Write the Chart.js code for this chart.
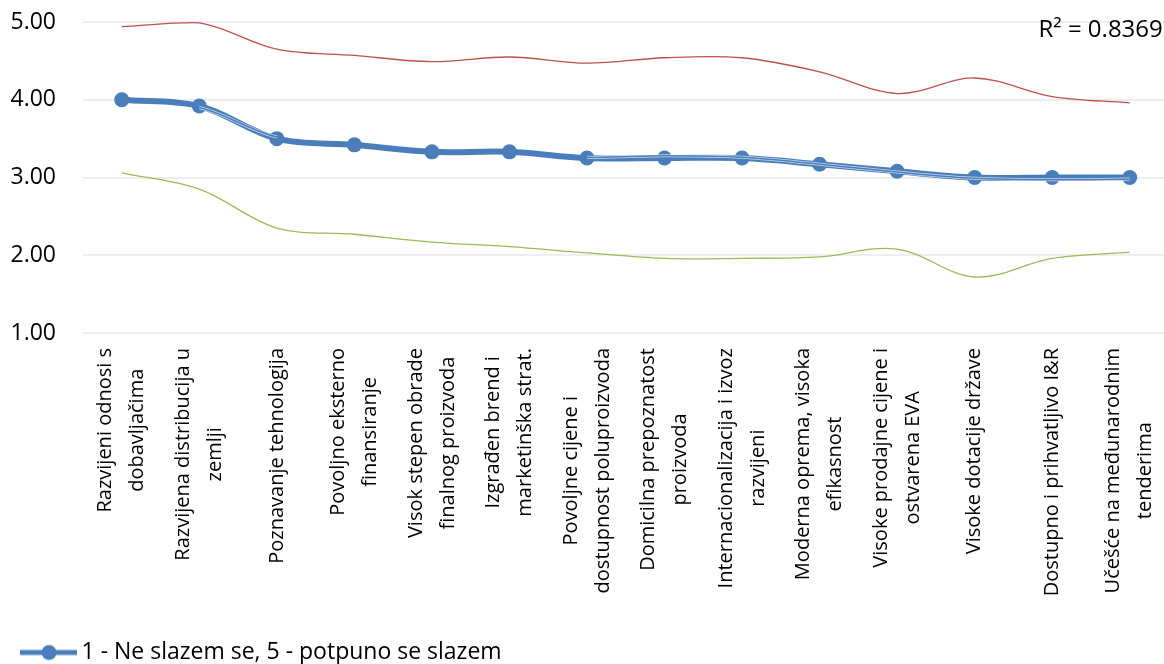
<!DOCTYPE html>
<html>
<head>
<meta charset="utf-8">
<script src="https://cdn.jsdelivr.net/npm/chart.js@4.4.1/dist/chart.umd.min.js"></script>
<style>
  html, body { margin: 0; padding: 0; background: #fff; overflow: hidden; }
  #wrap { position: relative; width: 1176px; height: 664px; }
</style>
</head>
<body>
<div id="wrap"><canvas id="chart"></canvas></div>
<script>
const categories = [
  ['Razvijeni odnosi s', 'dobavljačima'],
  ['Razvijena distribucija u', 'zemlji'],
  ['Poznavanje tehnologija'],
  ['Povoljno eksterno', 'finansiranje'],
  ['Visok stepen obrade', 'finalnog proizvoda'],
  ['Izgrađen brend i', 'marketinška strat.'],
  ['Povoljne cijene i', 'dostupnost poluproizvoda'],
  ['Domicilna prepoznatost', 'proizvoda'],
  ['Internacionalizacija i izvoz', 'razvijeni'],
  ['Moderna oprema, visoka', 'efikasnost'],
  ['Visoke prodajne cijene i', 'ostvarena EVA'],
  ['Visoke dotacije države'],
  ['Dostupno i prihvatljivo I&R'],
  ['Učešće na međunarodnim', 'tenderima']
];
const meanScores  = [4.00, 3.92, 3.50, 3.42, 3.33, 3.33, 3.25, 3.25, 3.25, 3.17, 3.08, 3.00, 3.00, 3.00];
const upperValues = [4.94, 4.99, 4.65, 4.57, 4.49, 4.55, 4.47, 4.54, 4.54, 4.36, 4.08, 4.28, 4.04, 3.96];
const lowerValues = [3.06, 2.85, 2.35, 2.27, 2.17, 2.11, 2.03, 1.96, 1.96, 1.98, 2.08, 1.72, 1.96, 2.04];
const trendValues = [4.00, 3.90, 3.52, 3.42, 3.33, 3.33, 3.26, 3.28, 3.26, 3.17, 3.07, 2.99, 2.97, 2.98];
const yTicks = [1, 2, 3, 4, 5];
const seriesName = '1 - Ne slazem se, 5 - potpuno se slazem';
const rSquaredText = 'R² = 0.8369';

const BLUE = '#4a7ebb';
const RED = '#c0504d';
const GREEN = '#9bbb59';
const FONT = '"Open Sans", "DejaVu Sans", sans-serif';

// legend marker: thick line with a dot, offset so the text sits right after it
function legendSymbol() {
  const c = document.createElement('canvas');
  c.width = 114; c.height = 20;
  const g = c.getContext('2d');
  g.strokeStyle = BLUE;
  g.lineWidth = 5;
  g.beginPath(); g.moveTo(42, 10); g.lineTo(99, 10); g.stroke();
  g.fillStyle = BLUE;
  g.beginPath(); g.arc(71, 10, 7.5, 0, Math.PI * 2); g.fill();
  return c;
}

// rotated, centred multi-line category labels + R² note
const categoryLabels = {
  id: 'categoryLabels',
  afterDraw(chart) {
    const { ctx, chartArea, scales: { x } } = chart;
    ctx.save();
    ctx.font = '20px ' + FONT;
    ctx.fillStyle = '#000';
    ctx.textAlign = 'center';
    ctx.textBaseline = 'middle';
    const top = chartArea.bottom + 15;
    categories.forEach((lines, i) => {
      const px = x.getPixelForTick(i);
      const w = Math.max(...lines.map(l => ctx.measureText(l).width));
      lines.forEach((line, j) => {
        ctx.save();
        ctx.translate(px + (j - (lines.length - 1) / 2) * 32, top + w / 2);
        ctx.rotate(-Math.PI / 2);
        ctx.fillText(line, 0, 0);
        ctx.restore();
      });
    });
    ctx.font = '24px ' + FONT;
    ctx.textAlign = 'left';
    ctx.textBaseline = 'alphabetic';
    ctx.fillText(rSquaredText, chartArea.right - 130, chartArea.top + 15);
    ctx.restore();
  }
};

// white edge of the trend line only shows where it leaves the thick series line
const haloColor = c => (c.p0DataIndex === 1 || c.p0DataIndex >= 6) ? 'rgba(255,255,255,0.7)' : 'rgba(255,255,255,0)';

new Chart(document.getElementById('chart'), {
  type: 'line',
  data: {
    labels: categories,
    datasets: [
      {
        label: 'trend', data: trendValues, borderColor: BLUE, borderWidth: 1.5,
        pointRadius: 0, tension: 0.35, order: 0
      },
      {
        label: 'trend-halo', data: trendValues, borderColor: '#ffffff', borderWidth: 3,
        segment: { borderColor: haloColor },
        pointRadius: 0, tension: 0.35, order: 1
      },
      {
        label: seriesName, data: meanScores, borderColor: BLUE, backgroundColor: BLUE,
        borderWidth: 6, pointRadius: 7.5, pointBackgroundColor: BLUE, pointBorderWidth: 0,
        tension: 0.35, order: 2
      },
      {
        label: 'upper', data: upperValues, borderColor: RED, borderWidth: 1.3,
        pointRadius: 0, tension: 0.35, order: 3
      },
      {
        label: 'lower', data: lowerValues, borderColor: GREEN, borderWidth: 1.3,
        pointRadius: 0, tension: 0.35, order: 4
      }
    ]
  },
  options: {
    responsive: true,
    maintainAspectRatio: false,
    animation: false,
    clip: false,
    layout: { padding: { top: 22, left: 0, right: 0, bottom: -10 } },
    plugins: {
      tooltip: { enabled: false },
      legend: {
        position: 'bottom',
        align: 'start',
        labels: {
          usePointStyle: true,
          pointStyleWidth: 70,
          padding: 0,
          color: '#000',
          font: { size: 23, family: FONT },
          generateLabels: () => [{
            text: seriesName, pointStyle: legendSymbol(), fillStyle: BLUE,
            strokeStyle: BLUE, lineWidth: 0, datasetIndex: 2, hidden: false
          }]
        }
      }
    },
    scales: {
      x: {
        offset: true,
        grid: { display: false },
        border: { display: false },
        ticks: { display: false },
        afterFit: s => { s.height = 308; }
      },
      y: {
        min: 1,
        max: 5,
        afterBuildTicks: s => { s.ticks = yTicks.map(v => ({ value: v })); },
        grid: { color: '#eeeeee', lineWidth: 2, drawTicks: false },
        border: { display: false },
        ticks: {
          color: '#000',
          padding: 27,
          font: { size: 23, family: FONT },
          callback: v => v.toFixed(2)
        },
        afterFit: s => { s.width = 83; s.paddingTop = 0; s.paddingBottom = 0; }
      }
    }
  },
  plugins: [categoryLabels]
});
</script>
</body>
</html>
